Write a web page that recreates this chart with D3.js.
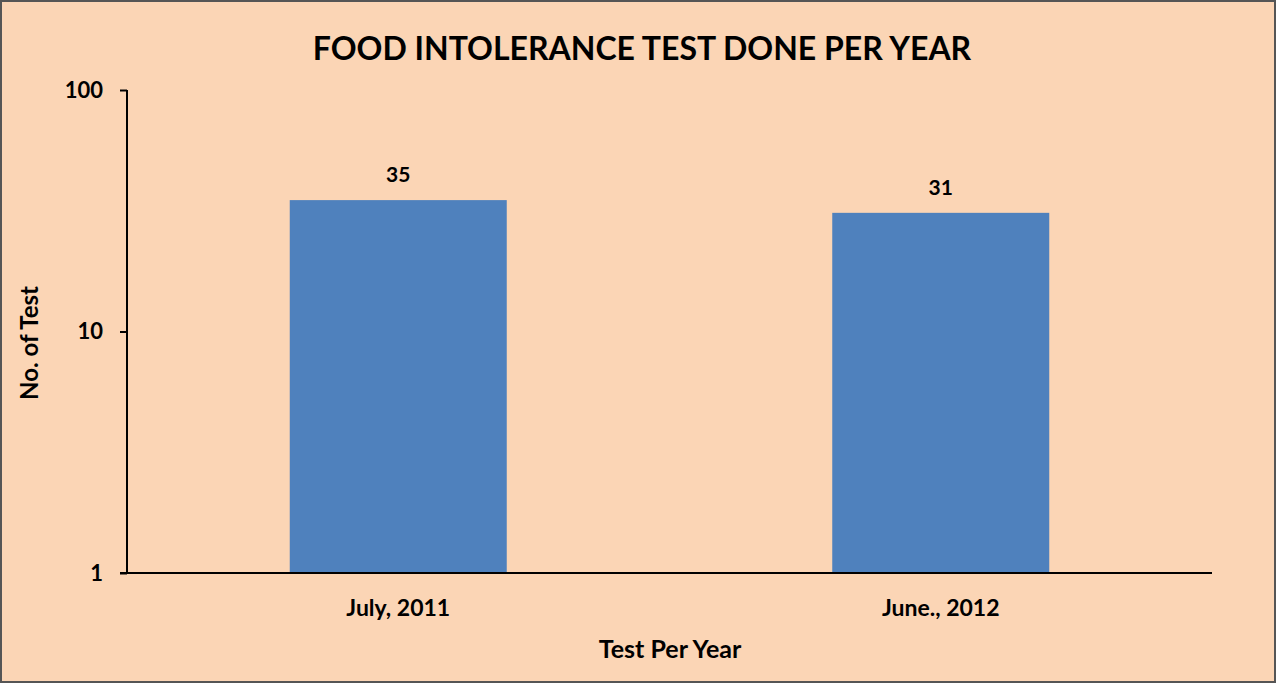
<!DOCTYPE html>
<meta charset="utf-8">
<style>
body { margin: 0; }
text { font-family: Lato, "Open Sans", sans-serif; font-weight: bold; fill: #000; }
</style>
<svg width="1276" height="683"></svg>
<script src="https://d3js.org/d3.v7.min.js"></script>
<script>
var categories = ["July, 2011", "June., 2012"];
var values = [35, 31];
var yTicks = [1, 10, 100];

var svg = d3.select("svg"),
    width = +svg.attr("width"),
    height = +svg.attr("height");

var plotLeft = 127, plotRight = 1212, plotTop = 90, plotBottom = 573;

// background + frame
svg.append("rect")
    .attr("x", 1).attr("y", 1)
    .attr("width", width - 2).attr("height", height - 2)
    .attr("fill", "#FBD5B5")
    .attr("stroke", "#555")
    .attr("stroke-width", 2);

var x = d3.scaleBand()
    .domain(categories)
    .range([plotLeft, plotRight])
    .paddingInner(0.6)
    .paddingOuter(0.3);

var y = d3.scaleLog()
    .domain([1, 100])
    .range([plotBottom, plotTop]);

svg.append("g")
  .selectAll("rect")
  .data(values)
  .enter().append("rect")
    .attr("x", function(d, i) { return x(categories[i]); })
    .attr("y", function(d) { return y(d); })
    .attr("width", x.bandwidth())
    .attr("height", function(d) { return plotBottom - y(d); })
    .attr("fill", "#4F81BD");

// value labels
svg.append("g")
  .selectAll("text")
  .data(values)
  .enter().append("text")
    .attr("x", function(d, i) { return x(categories[i]) + x.bandwidth() / 2; })
    .attr("y", function(d) { return y(d) - 18; })
    .attr("text-anchor", "middle")
    .style("font-size", "21px")
    .text(function(d) { return d; });

// y axis
var yAxis = svg.append("g")
    .attr("transform", "translate(" + plotLeft + ",0)")
    .call(d3.axisLeft(y).tickValues(yTicks).tickFormat(d3.format("d")).tickSize(7).tickSizeOuter(0));
yAxis.select(".domain").attr("stroke", "#000").attr("stroke-width", 2).attr("d", "M0," + plotBottom + "V" + plotTop);
yAxis.selectAll(".tick line").attr("stroke", "#000").attr("stroke-width", 2);
yAxis.selectAll(".tick text")
    .attr("x", -24)
    .style("font-size", "22px")
    .style("font-family", "Lato, sans-serif")
    .style("font-weight", "bold");

// x axis
var xAxis = svg.append("g")
    .attr("transform", "translate(0," + plotBottom + ")")
    .call(d3.axisBottom(x).tickSize(0).tickSizeOuter(0));
xAxis.select(".domain").attr("stroke", "#000").attr("stroke-width", 2).attr("d", "M" + (plotLeft - 7) + ",0H" + plotRight);
xAxis.selectAll(".tick text")
    .attr("y", 27)
    .style("font-size", "23px")
    .style("font-family", "Lato, sans-serif")
    .style("font-weight", "bold");

// title
svg.append("text")
    .attr("x", 642)
    .attr("y", 60)
    .attr("text-anchor", "middle")
    .style("font-size", "32px")
    .text("FOOD INTOLERANCE TEST DONE PER YEAR");

// axis titles
svg.append("text")
    .attr("x", 670)
    .attr("y", 658)
    .attr("text-anchor", "middle")
    .style("font-size", "25px")
    .text("Test Per Year");

svg.append("text")
    .attr("transform", "translate(38,343) rotate(-90)")
    .attr("text-anchor", "middle")
    .style("font-size", "24px")
    .text("No. of Test");
</script>
